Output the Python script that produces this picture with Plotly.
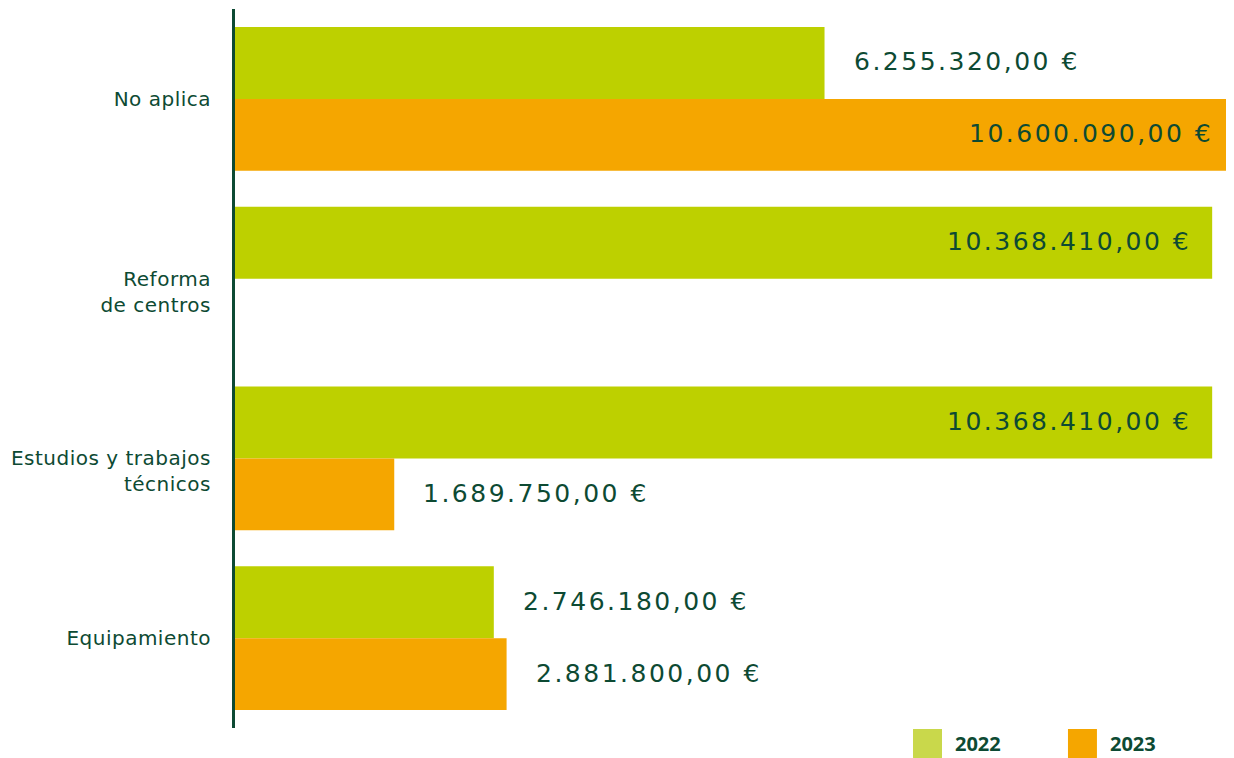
import plotly.graph_objects as go

categories = ["No aplica", "Reforma de centros", "Estudios y trabajos técnicos", "Equipamiento"]
tick_labels = ["No aplica", "<br>Reforma<br>de centros", "<br>Estudios y trabajos<br>técnicos", "Equipamiento"]
values_2022 = [6255320.00, 10368410.00, 10368410.00, 2746180.00]
values_2023 = [10600090.00, None, 1689750.00, 2881800.00]
series_names = ["2022", "2023"]

GREEN = "#bdd000"
ORANGE = "#f5a600"
LEG_GREEN = "#c9d84b"
TEXT = "#0d4a33"
INSIDE_THRESHOLD = 9000000


def fmt(v):
    s = f"{v:,.2f}"
    s = s.replace(",", "X").replace(".", ",").replace("X", ".")
    return s + " €"


def spaced(t, px):
    return f'<span style="letter-spacing:{px}px">{t}</span>'


fig = go.Figure()
fig.add_trace(go.Bar(y=categories, x=values_2022, orientation="h", name=series_names[0],
                     marker=dict(color=GREEN, line=dict(width=0)), showlegend=False))
fig.add_trace(go.Bar(y=categories, x=values_2023, orientation="h", name=series_names[1],
                     marker=dict(color=ORANGE, line=dict(width=0)), showlegend=False))

annotations = []
for s_idx, vals in enumerate([values_2022, values_2023]):
    off = -0.2 if s_idx == 0 else 0.2
    for i, v in enumerate(vals):
        if v is None:
            continue
        inside = v > INSIDE_THRESHOLD
        annotations.append(dict(
            x=v, y=i + off, xref="x", yref="y", text=spaced(fmt(v), 2.5), showarrow=False,
            xanchor="right" if inside else "left",
            xshift=-19 if inside else 27, yshift=1,
            font=dict(family="DejaVu Sans", size=25, color=TEXT),
        ))

# legend (drawn manually to match square size)
leg_items = [(series_names[0], LEG_GREEN, 0.6787), (series_names[1], ORANGE, 0.8338)]
shapes = []
for name, col, x0 in leg_items:
    shapes.append(dict(type="rect", xref="paper", yref="paper", x0=x0, x1=x0 + 0.029,
                       y0=-0.0417, y1=-0.0014, fillcolor=col, line=dict(width=0)))
    annotations.append(dict(x=x0 + 0.040, y=-0.0215, xref="paper", yref="paper", text=f"<b>{name}</b>",
                            showarrow=False, xanchor="left", yanchor="middle",
                            font=dict(family="Open Sans", size=20, color=TEXT)))

fig.update_layout(
    width=1226, height=750,
    margin=dict(l=227, r=0, t=1, b=30),
    barmode="group", bargap=0.2, bargroupgap=0,
    plot_bgcolor="white", paper_bgcolor="white",
    annotations=annotations, shapes=shapes,
    showlegend=False,
    xaxis=dict(range=[0, 10600090], showgrid=False, zeroline=False, showticklabels=False,
               showline=False, fixedrange=True),
    yaxis=dict(autorange="reversed", showgrid=False, zeroline=False, showline=True,
               linecolor=TEXT, linewidth=3, ticks="", ticklabelstandoff=17,
               tickmode="array", tickvals=categories,
               ticktext=[spaced(t, 0.5) for t in tick_labels],
               tickfont=dict(family="DejaVu Sans", size=20, color=TEXT)),
)

fig.write_html("out.html")
